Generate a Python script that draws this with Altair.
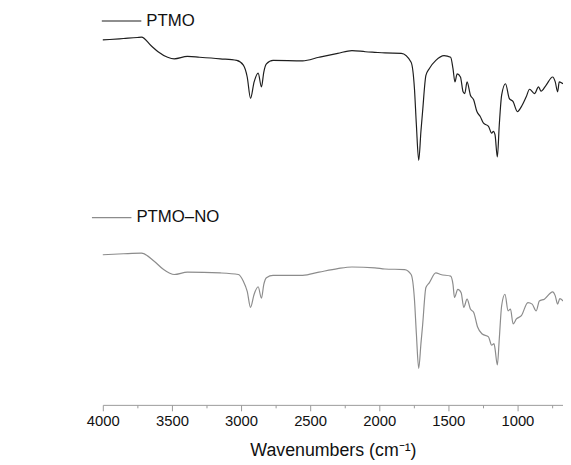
import altair as alt
import pandas as pd

# PTMO spectrum (wavenumber, transmittance a.u.)
ptmo_wn = [4000, 3950, 3850, 3750, 3720, 3650, 3600, 3531, 3483, 3388, 3300, 3150, 3031, 2983, 2955,
           2931, 2905, 2876, 2852, 2835, 2816, 2768, 2554, 2436, 2300, 2197, 2100, 2031, 1959, 1840,
           1769, 1745, 1731, 1714, 1698, 1686, 1662, 1638, 1590, 1531, 1483, 1466, 1452, 1436, 1412,
           1393, 1381, 1364, 1340, 1316, 1293, 1269, 1245, 1209, 1186, 1174, 1162, 1145, 1131, 1114,
           1086, 1059, 1031, 1000, 971, 936, 912, 876, 847, 829, 793, 745, 726, 709, 697, 670]
ptmo_t = [92.4, 92.5, 92.75, 93.0, 93.1, 90.9, 89.4, 88.0, 87.6, 88.2, 88.0, 87.6, 87.2, 86.0, 83.0,
          77.6, 81.75, 84.0, 80.5, 84.25, 86.3, 87.2, 87.1, 88.0, 89.0, 89.7, 89.4, 89.25, 89.1, 89.0,
          86.75, 80.1, 70.9, 61.9, 69.25, 74.25, 83.4, 85.1, 87.2, 88.4, 88.0, 85.1, 81.75, 83.8, 83.0,
          79.25, 78.8, 81.75, 78.4, 77.2, 74.25, 73.0, 71.3, 70.5, 68.8, 69.25, 68.4, 62.75, 70.9, 78.4,
          81.3, 77.6, 76.75, 74.25, 75.5, 78.0, 79.9, 78.8, 80.5, 79.4, 80.9, 83.0, 81.75, 79.25, 81.75, 81.3]

# PTMO-NO spectrum
no_wn = [4000, 3850, 3721, 3626, 3560, 3519, 3483, 3388, 3150, 3019, 2983, 2955, 2931, 2905, 2876,
         2852, 2835, 2816, 2768, 2554, 2436, 2300, 2197, 2031, 1959, 1816, 1769, 1745, 1731, 1714,
         1698, 1686, 1662, 1638, 1590, 1555, 1483, 1466, 1455, 1431, 1407, 1388, 1364, 1340, 1316,
         1288, 1257, 1209, 1186, 1169, 1162, 1145, 1131, 1114, 1090, 1067, 1050, 1031, 1007, 971,
         924, 893, 864, 841, 805, 745, 726, 709, 693, 669]
no_t = [38.0, 38.25, 38.4, 36.3, 34.25, 33.4, 33.0, 33.6, 33.4, 33.0, 31.3, 28.75, 24.7, 28.0, 29.9,
        27.0, 30.5, 32.2, 32.8, 32.8, 33.6, 34.5, 34.9, 34.7, 34.4, 34.25, 33.0, 26.75, 18.0, 9.25,
        15.5, 20.1, 29.7, 30.9, 33.4, 33.0, 32.6, 30.5, 27.2, 29.25, 28.4, 24.7, 26.75, 24.25, 23.4,
        19.7, 18.0, 17.2, 15.1, 15.5, 14.25, 10.1, 16.75, 25.1, 28.0, 23.8, 24.25, 20.5, 21.75, 22.6,
        25.9, 25.5, 23.8, 26.3, 26.75, 28.6, 27.6, 25.5, 26.9, 26.3]

series_names = ["PTMO", "PTMO\u2013NO"]
series_colors = ["#1e1e1e", "#8c8c8c"]
tick_values = [4000, 3750, 3500, 3250, 3000, 2750, 2500, 2250, 2000, 1750, 1500, 1250, 1000, 750]

rows = []
for i, (w, t) in enumerate(zip(ptmo_wn, ptmo_t)):
    rows.append({"wn": w, "t": t, "series": series_names[0], "i": i})
for i, (w, t) in enumerate(zip(no_wn, no_t)):
    rows.append({"wn": w, "t": t, "series": series_names[1], "i": i})
df = pd.DataFrame(rows)

FONT = "Arial, Liberation Sans, sans-serif"

x_scale = alt.Scale(domain=[4000, 670], nice=False, zero=False)
y_scale = alt.Scale(domain=[0, 99.75], nice=False, zero=False)

x_axis = alt.Axis(
    values=tick_values,
    labelExpr="datum.value % 500 === 0 ? datum.label : ''",
    format="d",
    tickSize={"condition": {"test": "datum.value % 500 === 0", "value": 6}, "value": 3},
    tickColor="#999999",
    domainColor="#999999",
    labelColor="#111111",
    labelFont=FONT,
    labelFontSize=15,
    labelPadding=3,
    title="Wavenumbers (cm\u207b\u00b9)",
    titleFont=FONT,
    titleFontSize=18,
    titleFontWeight="normal",
    titleColor="#111111",
    titlePadding=13,
    grid=False,
    labelFlush=False,
)

lines = alt.Chart(df).mark_line(strokeWidth=1.2, interpolate="monotone").encode(
    x=alt.X("wn:Q", scale=x_scale, axis=x_axis),
    y=alt.Y("t:Q", scale=y_scale, axis=None),
    color=alt.Color("series:N", scale=alt.Scale(domain=series_names, range=series_colors), legend=None),
    detail="series:N",
    order="i:Q",
)

leg1_line = alt.Chart(pd.DataFrame({"series": [series_names[0]]})).mark_rule(
    color=series_colors[0], strokeWidth=1.2
).encode(x=alt.value(-1), x2=alt.value(39), y=alt.value(10.3))
leg1_text = alt.Chart(pd.DataFrame({"series": [series_names[0]]})).mark_text(
    align="left", baseline="middle", font=FONT, fontSize=17, color="#111111"
).encode(x=alt.value(44), y=alt.value(10), text="series:N")

leg2_line = alt.Chart(pd.DataFrame({"series": [series_names[1]]})).mark_rule(
    color=series_colors[1], strokeWidth=1.2
).encode(x=alt.value(-11), x2=alt.value(29), y=alt.value(209.3))
leg2_text = alt.Chart(pd.DataFrame({"series": [series_names[1]]})).mark_text(
    align="left", baseline="middle", font=FONT, fontSize=17, color="#111111"
).encode(x=alt.value(34), y=alt.value(209), text="series:N")

chart = alt.layer(lines, leg1_line, leg1_text, leg2_line, leg2_text).properties(
    width=466,
    height=399,
    autosize=alt.AutoSizeParams(type="none"),
    padding={"left": 96, "top": 0, "right": 0, "bottom": 57},
    background="white",
).configure_view(stroke=None)

chart.save("out.html", embed_options={"renderer": "svg", "actions": False})
